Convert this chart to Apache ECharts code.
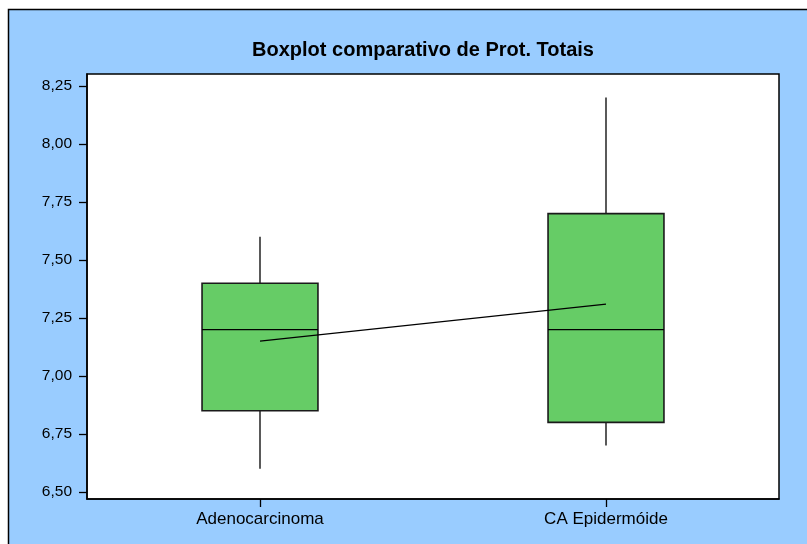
<!DOCTYPE html>
<html>
<head>
<meta charset="utf-8">
<style>
html, body { margin: 0; padding: 0; background: #fff; }
#chart { width: 807px; height: 544px; }
</style>
<script src="https://cdn.jsdelivr.net/npm/echarts@6/dist/echarts.min.js"></script>
</head>
<body>
<div id="chart"></div>
<script>
// dados
const categories = ['Adenocarcinoma', 'CA Epidermóide'];
// [min, Q1, mediana, Q3, max]
const boxData = [
  [6.60, 6.85, 7.20, 7.40, 7.60],
  [6.70, 6.80, 7.20, 7.70, 8.20]
];
const means = [7.15, 7.31];
const yTicks = [6.50, 6.75, 7.00, 7.25, 7.50, 7.75, 8.00, 8.25];

const chart = echarts.init(document.getElementById('chart'));

function renderBox(params, api) {
  const cat = api.value(0);
  const vals = [api.value(1), api.value(2), api.value(3), api.value(4), api.value(5)];
  const band = api.size([1, 0])[0];
  const w = band * 0.335;
  const pts = vals.map(v => api.coord([cat, v]));
  const x = pts[0][0];
  const lineStyle = { stroke: '#000', lineWidth: 1.3 };
  return {
    type: 'group',
    children: [
      { type: 'line', shape: { x1: x, y1: pts[4][1], x2: x, y2: pts[3][1] }, style: lineStyle },
      { type: 'line', shape: { x1: x, y1: pts[1][1], x2: x, y2: pts[0][1] }, style: lineStyle },
      { type: 'rect', shape: { x: x - w / 2, y: pts[3][1], width: w, height: pts[1][1] - pts[3][1] },
        style: { fill: '#66CC66', stroke: '#1a1a1a', lineWidth: 1.6 } },
      { type: 'line', shape: { x1: x - w / 2, y1: pts[2][1], x2: x + w / 2, y2: pts[2][1] }, style: lineStyle }
    ]
  };
}

const option = {
  backgroundColor: '#99CCFF',
  animation: false,
  textStyle: { fontFamily: 'Liberation Sans, Arial, sans-serif' },
  graphic: [
    // área branca fora da moldura
    { type: 'rect', shape: { x: 0, y: 0, width: 807, height: 9 }, style: { fill: '#fff' }, z: -1 },
    { type: 'rect', shape: { x: 0, y: 0, width: 8, height: 544 }, style: { fill: '#fff' }, z: -1 },
    { type: 'polyline', shape: { points: [[8.5, 544], [8.5, 9.5], [807, 9.5]] },
      style: { stroke: '#000', lineWidth: 1.5, fill: null } }
  ],
  title: {
    text: 'Boxplot comparativo de Prot. Totais',
    left: 418,
    textAlign: 'center',
    top: 35,
    textStyle: { fontSize: 20, fontWeight: 'bold', color: '#000' }
  },
  grid: {
    left: 87, top: 74, right: 28, bottom: 45,
    show: true, backgroundColor: '#fff', borderColor: '#000', borderWidth: 1.5
  },
  xAxis: {
    type: 'category',
    data: categories,
    boundaryGap: true,
    axisLine: { show: true, lineStyle: { color: '#000', width: 1.5 } },
    axisTick: { show: true, alignWithLabel: true, length: 8, lineStyle: { color: '#000', width: 1.3 } },
    axisLabel: { color: '#000', fontSize: 17, margin: 12 },
    splitLine: { show: false }
  },
  yAxis: {
    type: 'value',
    min: 6.5 - 7 / 232,
    max: 8.25 + 12 / 232,
    axisLine: { show: true, lineStyle: { color: '#000', width: 1.5 } },
    axisTick: { show: true, length: 8, customValues: yTicks, lineStyle: { color: '#000', width: 1.3 } },
    axisLabel: {
      color: '#000', fontSize: 15.5, margin: 15,
      customValues: yTicks,
      formatter: v => v.toFixed(2).replace('.', ',')
    },
    splitLine: { show: false }
  },
  series: [
    {
      type: 'custom',
      renderItem: renderBox,
      encode: { x: 0, y: [1, 2, 3, 4, 5] },
      data: boxData.map((d, i) => [i].concat(d)),
      z: 2
    },
    {
      type: 'line',
      data: means,
      symbol: 'none',
      lineStyle: { color: '#000', width: 1.3 },
      z: 3
    }
  ]
};

chart.setOption(option);
</script>
</body>
</html>
